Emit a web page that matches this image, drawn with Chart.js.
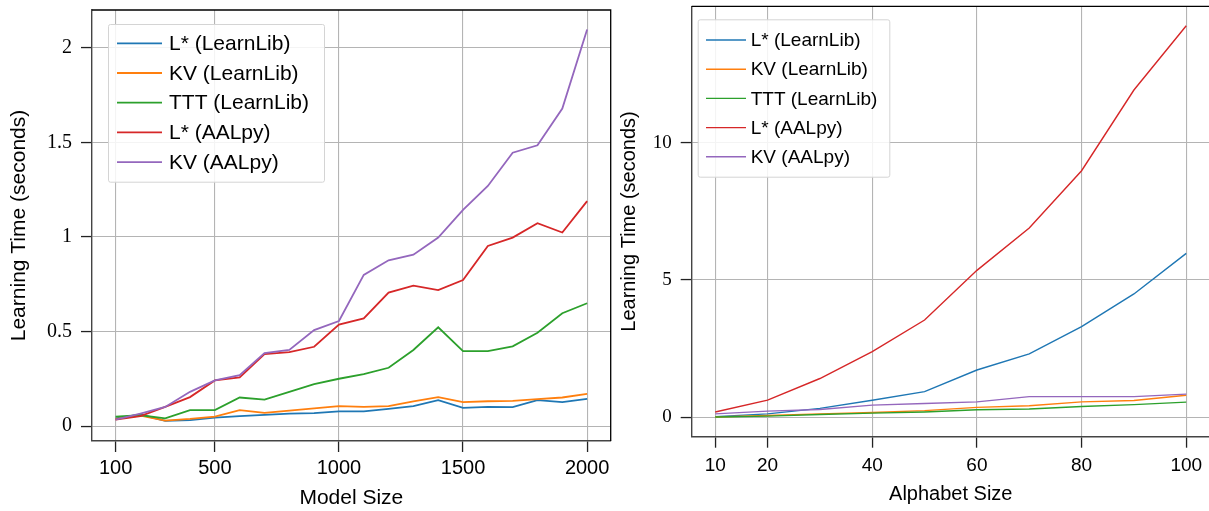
<!DOCTYPE html>
<html>
<head>
<meta charset="utf-8">
<script src="https://cdn.jsdelivr.net/npm/chart.js@4.4.1/dist/chart.umd.min.js"></script>
<style>
  html, body { margin: 0; padding: 0; background: #fff; }
  body { width: 1209px; height: 511px; overflow: hidden; position: relative; }
  canvas { position: absolute; top: 0; }
  #modelChart { left: 0; }
  #alphabetChart { left: 612px; }
</style>
</head>
<body>
<canvas id="modelChart" width="620" height="511"></canvas>
<canvas id="alphabetChart" width="600" height="511"></canvas>
<script>
// ---- series names (shared by both panels) ----
const seriesNames = ['L* (LearnLib)', 'KV (LearnLib)', 'TTT (LearnLib)', 'L* (AALpy)', 'KV (AALpy)'];

// ---- panel 1: learning time vs. model size ----
const modelSizes = [100, 200, 300, 400, 500, 600, 700, 800, 900, 1000,
                    1100, 1200, 1300, 1400, 1500, 1600, 1700, 1800, 1900, 2000];
const modelLStarLearnLib = [0.042, 0.062, 0.028, 0.032, 0.046, 0.053, 0.060, 0.067, 0.069, 0.079,
                            0.079, 0.092, 0.106, 0.138, 0.097, 0.102, 0.101, 0.138, 0.127, 0.145];
const modelKVLearnLib    = [0.039, 0.056, 0.030, 0.039, 0.051, 0.085, 0.071, 0.083, 0.094, 0.106,
                            0.102, 0.106, 0.132, 0.154, 0.127, 0.132, 0.134, 0.143, 0.152, 0.171];
const modelTTTLearnLib   = [0.051, 0.058, 0.042, 0.085, 0.085, 0.152, 0.141, 0.182, 0.222, 0.251,
                            0.275, 0.309, 0.403, 0.523, 0.397, 0.397, 0.422, 0.494, 0.597, 0.650];
const modelLStarAALpy    = [0.035, 0.053, 0.102, 0.154, 0.242, 0.258, 0.381, 0.392, 0.420, 0.537,
                            0.570, 0.706, 0.743, 0.720, 0.773, 0.953, 0.997, 1.073, 1.024, 1.190];
const modelKVAALpy       = [0.035, 0.067, 0.102, 0.182, 0.242, 0.270, 0.387, 0.403, 0.508, 0.556,
                            0.800, 0.877, 0.907, 0.997, 1.144, 1.270, 1.446, 1.485, 1.679, 2.097];
const modelSizeTicks = [100, 500, 1000, 1500, 2000];
const modelTimeTicks = [0, 0.5, 1, 1.5, 2];

// ---- panel 2: learning time vs. alphabet size ----
const alphabetSizes = [10, 20, 30, 40, 50, 60, 70, 80, 90, 100];
const alphaLStarLearnLib = [0.02, 0.12, 0.32, 0.62, 0.93, 1.72, 2.31, 3.30, 4.49, 5.97];
const alphaKVLearnLib    = [0.01, 0.06, 0.12, 0.17, 0.24, 0.36, 0.42, 0.56, 0.61, 0.80];
const alphaTTTLearnLib   = [0.01, 0.04, 0.10, 0.15, 0.19, 0.27, 0.30, 0.39, 0.46, 0.55];
const alphaLStarAALpy    = [0.19, 0.62, 1.41, 2.39, 3.54, 5.35, 6.89, 8.98, 11.92, 14.26];
const alphaKVAALpy       = [0.12, 0.22, 0.28, 0.44, 0.50, 0.56, 0.75, 0.75, 0.75, 0.84];
const alphabetSizeTicks = [10, 20, 40, 60, 80, 100];
const alphabetTimeTicks = [0, 5, 10];

// ---- styling ----
const palette = ['#1f77b4', '#ff7f0e', '#2ca02c', '#d62728', '#9467bd'];
const SANS = '"Liberation Sans", Arial, Helvetica, sans-serif';
const SERIF = '"Liberation Serif", "DejaVu Serif", serif';

function pairs(xs, ys) { return xs.map((x, i) => ({ x, y: ys[i] })); }
function fixedTicks(values) { return scale => { scale.ticks = values.map(v => ({ value: v })); }; }

function buildDatasets(xs, seriesList, lineWidth) {
  return seriesList.map((ys, i) => ({
    label: seriesNames[i],
    data: pairs(xs, ys),
    borderColor: palette[i],
    backgroundColor: palette[i],
    borderWidth: lineWidth,
    pointRadius: 0,
    tension: 0,
    order: -i
  }));
}

// closes the box: top and right spines
const framePlugin = {
  id: 'frame',
  afterDatasetsDraw(chart) {
    const { ctx, chartArea: a } = chart;
    ctx.save();
    ctx.strokeStyle = '#000';
    ctx.lineWidth = 1.3;
    ctx.beginPath();
    ctx.moveTo(a.left, a.top);
    ctx.lineTo(a.right, a.top);
    ctx.lineTo(a.right, a.bottom);
    ctx.stroke();
    ctx.restore();
  }
};

// legend drawn inside the plot area, upper left
const insetLegend = {
  id: 'insetLegend',
  afterDraw(chart, args, o) {
    const { ctx, chartArea: a } = chart;
    const bx = a.left + o.dx, by = a.top + o.dy;
    ctx.save();
    ctx.beginPath();
    ctx.roundRect(bx + 0.5, by + 0.5, o.w, o.h, 2);
    ctx.fillStyle = 'rgba(255,255,255,0.85)';
    ctx.fill();
    ctx.strokeStyle = '#d4d4d4';
    ctx.lineWidth = 1;
    ctx.stroke();
    ctx.font = o.fontSize + 'px ' + SANS;
    ctx.textBaseline = 'middle';
    ctx.textAlign = 'left';
    chart.data.datasets.forEach((ds, i) => {
      const cy = by + o.firstRow + i * o.rowGap;
      ctx.strokeStyle = ds.borderColor;
      ctx.lineWidth = ds.borderWidth;
      ctx.beginPath();
      ctx.moveTo(bx + o.lineStart, cy);
      ctx.lineTo(bx + o.lineEnd, cy);
      ctx.stroke();
      ctx.fillStyle = '#000';
      ctx.fillText(ds.label, bx + o.textStart, cy + 1);
    });
    ctx.restore();
  }
};

function makeChart(id, cfg) {
  return new Chart(document.getElementById(id), {
    type: 'line',
    data: { datasets: cfg.datasets },
    plugins: [framePlugin, insetLegend],
    options: {
      responsive: false,
      animation: false,
      devicePixelRatio: 1,
      layout: { padding: cfg.padding },
      plugins: {
        legend: { display: false },
        tooltip: { enabled: false },
        insetLegend: cfg.legend
      },
      scales: {
        x: {
          type: 'linear',
          min: cfg.xMin, max: cfg.xMax,
          afterBuildTicks: fixedTicks(cfg.xTicks),
          afterFit: s => { s.height = cfg.xAxisHeight; s.paddingLeft = 0; s.paddingRight = 0; },
          grid: { color: '#b4b4b4', lineWidth: 1.1, tickColor: '#222', tickLength: 11, tickWidth: 1.3 },
          border: { display: true, color: '#444', width: 1.4 },
          ticks: {
            font: { family: SANS, size: cfg.tickSize },
            color: '#000',
            padding: cfg.xTickPad,
            maxRotation: 0,
            autoSkip: false,
            callback: v => String(v)
          },
          title: {
            display: true, text: cfg.xTitle, color: '#000',
            font: { family: SANS, size: cfg.titleSize },
            padding: { top: 0, bottom: cfg.xTitlePad }
          }
        },
        y: {
          type: 'linear',
          min: cfg.yMin, max: cfg.yMax,
          afterBuildTicks: fixedTicks(cfg.yTicks),
          afterFit: s => { s.width = cfg.yAxisWidth; s.paddingTop = 0; s.paddingBottom = 0; },
          grid: { color: '#b4b4b4', lineWidth: 1.1, tickColor: '#222', tickLength: 11, tickWidth: 1.3 },
          border: { display: true, color: '#444', width: 1.4 },
          ticks: {
            font: { family: SERIF, size: cfg.yTickSize },
            color: '#000',
            padding: cfg.yTickPad,
            autoSkip: false,
            callback: v => String(v)
          },
          title: {
            display: true, text: 'Learning Time (seconds)', color: '#000',
            font: { family: SANS, size: cfg.titleSize },
            padding: { top: cfg.yTitlePad, bottom: 0 }
          }
        }
      }
    }
  });
}

makeChart('modelChart', {
  datasets: buildDatasets(modelSizes,
    [modelLStarLearnLib, modelKVLearnLib, modelTTTLearnLib, modelLStarAALpy, modelKVAALpy], 1.8),
  padding: { left: 0, top: 10, right: 9.3, bottom: 0 },
  xMin: 5, xMax: 2095, xTicks: modelSizeTicks,
  yMin: -0.078, yMax: 2.2, yTicks: modelTimeTicks,
  xAxisHeight: 70, yAxisWidth: 92,
  tickSize: 20, yTickSize: 20, titleSize: 21,
  xTickPad: 4, yTickPad: 9, xTitlePad: 0, yTitlePad: 7,
  xTitle: 'Model Size',
  legend: { dx: 16, dy: 14, w: 216, h: 157.7, firstRow: 19.3, rowGap: 29.7,
            lineStart: 9, lineEnd: 54, textStart: 61, fontSize: 21 }
});

makeChart('alphabetChart', {
  datasets: buildDatasets(alphabetSizes,
    [alphaLStarLearnLib, alphaKVLearnLib, alphaTTTLearnLib, alphaLStarAALpy, alphaKVAALpy], 1.4),
  padding: { left: 0, top: 6.3, right: 2.2, bottom: 0 },
  xMin: 5.5, xMax: 104.5, xTicks: alphabetSizeTicks,
  yMin: -0.71, yMax: 14.97, yTicks: alphabetTimeTicks,
  xAxisHeight: 74.3, yAxisWidth: 79.7,
  tickSize: 19, yTickSize: 19, titleSize: 20,
  xTickPad: 7, yTickPad: 9, xTitlePad: 5, yTitlePad: 5,
  xTitle: 'Alphabet Size',
  legend: { dx: 6, dy: 13, w: 191.6, h: 157.4, firstRow: 20.7, rowGap: 29.2,
            lineStart: 8.3, lineEnd: 48.3, textStart: 53, fontSize: 19 }
});
</script>
</body>
</html>
